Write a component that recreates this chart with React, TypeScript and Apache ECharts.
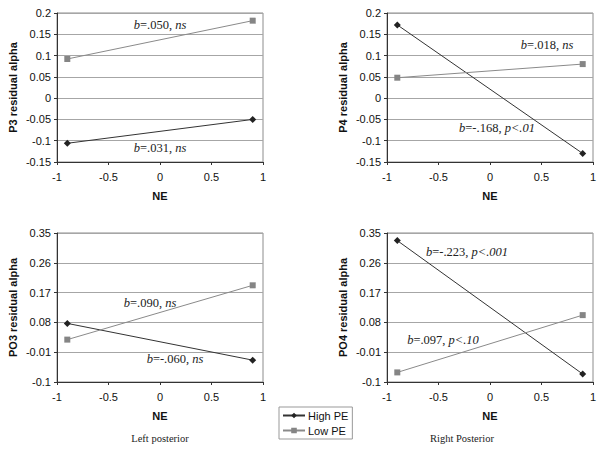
import React, { useEffect, useRef } from "react";
import * as echarts from "echarts";

const neLevels = [-0.9, 0.9];
const seriesNames = ["High PE", "Low PE"];
const panelYNames = ["P3 residual alpha", "P4 residual alpha", "PO3 residual alpha", "PO4 residual alpha"];
const highPE = [
  [-0.106, -0.05],
  [0.172, -0.13],
  [0.077, -0.034],
  [0.327, -0.076],
];
const lowPE = [
  [0.092, 0.182],
  [0.048, 0.08],
  [0.028, 0.192],
  [-0.071, 0.102],
];
const yMin = [-0.15, -0.15, -0.1, -0.1];
const yMax = [0.2, 0.2, 0.35, 0.35];
const yStep = [0.05, 0.05, 0.09, 0.09];
const xTicks = [-1, 1, 0.5];
const annotations = [
  { panel: 0, text: "{i|b}=.050, {i|ns}", x: 160, y: 25 },
  { panel: 0, text: "{i|b}=.031, {i|ns}", x: 160, y: 148 },
  { panel: 1, text: "{i|b}=.018, {i|ns}", x: 547, y: 45 },
  { panel: 1, text: "{i|b}=-.168, {i|p<.01}", x: 497, y: 128 },
  { panel: 2, text: "{i|b}=.090, {i|ns}", x: 150, y: 303 },
  { panel: 2, text: "{i|b}=-.060, {i|ns}", x: 175, y: 359 },
  { panel: 3, text: "{i|b}=-.223, {i|p<.001}", x: 467, y: 252 },
  { panel: 3, text: "{i|b}=.097, {i|p<.10}", x: 443, y: 340 },
];
const captions = [
  { text: "Left posterior", x: 160, y: 438 },
  { text: "Right Posterior", x: 462, y: 438 },
];

const SANS = "'Liberation Sans', Arial, sans-serif";
const SERIF = "'Liberation Serif', 'Times New Roman', serif";

export default function App() {
  const ref = useRef<HTMLDivElement>(null);
  useEffect(() => {
    if (!ref.current) return;
    const chart = echarts.init(ref.current, undefined, { renderer: "svg" });
    const gridPos = [
      { left: 57, top: 13 },
      { left: 387, top: 13 },
      { left: 57, top: 233 },
      { left: 387, top: 233 },
    ];
    const grids = gridPos.map((g) => ({
      left: g.left,
      top: g.top,
      width: 206,
      height: 149,
      show: true,
      borderColor: "#8c8c8c",
      borderWidth: 1,
      backgroundColor: "transparent",
      containLabel: false,
    }));
    const fmt = (v: number) => String(parseFloat(v.toFixed(2)));
    const xAxes = gridPos.map((_, i) => ({
      type: "value",
      gridIndex: i,
      min: xTicks[0],
      max: xTicks[1],
      interval: xTicks[2],
      name: "NE",
      nameLocation: "middle",
      nameGap: 28,
      nameTextStyle: { fontFamily: SANS, fontSize: 11, fontWeight: "bold", color: "#111" },
      axisLine: { show: true, onZero: false, lineStyle: { color: "#333", width: 1 } },
      axisTick: { show: true, length: 3, lineStyle: { color: "#333" } },
      axisLabel: { margin: 9, fontFamily: SANS, fontSize: 11, color: "#111", formatter: fmt },
      splitLine: { show: false },
    }));
    const yAxes = gridPos.map((_, i) => ({
      type: "value",
      gridIndex: i,
      min: yMin[i],
      max: yMax[i],
      interval: yStep[i],
      name: panelYNames[i],
      nameLocation: "middle",
      nameRotate: 90,
      nameGap: 39,
      nameTextStyle: { fontFamily: SANS, fontSize: 11, fontWeight: "bold", color: "#111" },
      axisLine: { show: true, onZero: false, lineStyle: { color: "#333", width: 1 } },
      axisTick: { show: true, length: 3, lineStyle: { color: "#333" } },
      axisLabel: { margin: 6, fontFamily: SANS, fontSize: 11, color: "#111", formatter: fmt },
      splitLine: { show: true, lineStyle: { color: "#a6a6a6", width: 1 } },
    }));
    const series: any[] = [];
    for (let i = 0; i < 4; i++) {
      series.push({
        type: "line",
        name: seriesNames[0],
        xAxisIndex: i,
        yAxisIndex: i,
        data: neLevels.map((x, k) => [x, highPE[i][k]]),
        symbol: "diamond",
        symbolSize: 7,
        itemStyle: { color: "#222" },
        lineStyle: { color: "#333", width: 1 },
      });
      series.push({
        type: "line",
        name: seriesNames[1],
        xAxisIndex: i,
        yAxisIndex: i,
        data: neLevels.map((x, k) => [x, lowPE[i][k]]),
        symbol: "rect",
        symbolSize: 6,
        itemStyle: { color: "#858585" },
        lineStyle: { color: "#8a8a8a", width: 1 },
      });
    }
    const graphic: any[] = [];
    annotations.forEach((a) => {
      graphic.push({
        type: "text",
        x: a.x,
        y: a.y,
        z: 10,
        style: {
          text: a.text,
          fontFamily: SERIF,
          fontSize: 12.5,
          fill: "#222",
          align: "center",
          verticalAlign: "middle",
          rich: { i: { fontFamily: SERIF, fontSize: 12.5, fontStyle: "italic", fill: "#222", color: "#222" } },
        },
      });
    });
    captions.forEach((c) => {
      graphic.push({
        type: "text",
        x: c.x,
        y: c.y,
        style: {
          text: c.text,
          fontFamily: SERIF,
          fontSize: 10.5,
          fill: "#222",
          align: "center",
          verticalAlign: "middle",
        },
      });
    });
    chart.setOption({
      animation: false,
      backgroundColor: "#fff",
      grid: grids,
      xAxis: xAxes,
      yAxis: yAxes,
      series,
      graphic,
      legend: {
        data: seriesNames,
        orient: "vertical",
        left: 279,
        top: 407,
        itemWidth: 22,
        itemHeight: 7,
        itemGap: 4,
        padding: [3, 4, 3, 3],
        borderColor: "#999",
        borderWidth: 1,
        textStyle: { fontFamily: SANS, fontSize: 11, color: "#111", padding: [0, 0, 0, -2] },
      },
    });
    return () => chart.dispose();
  }, []);
  return (
    <div
      ref={ref}
      style={{ position: "fixed", left: 0, top: 0, width: 600, height: 450, background: "#fff" }}
    />
  );
}
